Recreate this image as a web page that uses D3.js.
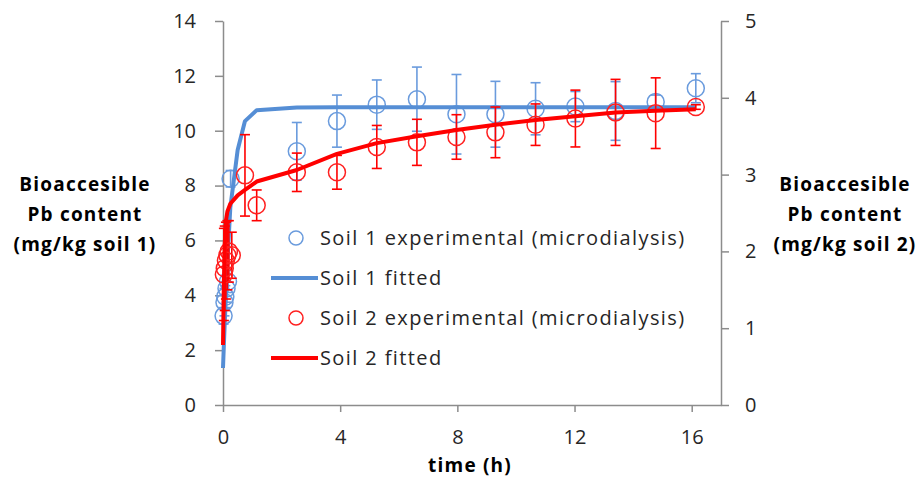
<!DOCTYPE html>
<html>
<head>
<meta charset="utf-8">
<script src="https://cdn.jsdelivr.net/npm/d3@7"></script>
<style>
    body { margin: 0; background: #fff; }
    svg { display: block; }
    .tick text { font-family: "Open Sans", Lato, sans-serif; font-size: 20px; fill: #262626; }
    .axis path, .axis line { stroke: #8c8c8c; stroke-width: 1.5px; }
    .title { font-family: "Open Sans", Lato, sans-serif; font-weight: bold; font-size: 19px; letter-spacing: 1.2px; fill: #000; }
    .legend text { font-family: "Open Sans", Lato, sans-serif; font-size: 20px; letter-spacing: 1.4px; fill: #262626; }
</style>
</head>
<body>
<svg width="922" height="479"></svg>
<script>
// soil 1 experimental (left axis)
const s1Time = [0.02, 0.05, 0.08, 0.12, 0.17, 0.26, 2.52, 3.89, 5.25, 6.62, 7.97, 9.30, 10.67, 12.03, 13.40, 14.77, 16.14]
const s1Val = [3.25, 3.75, 3.95, 4.25, 4.5, 8.25, 9.25, 10.35, 10.95, 11.15, 10.6, 10.6, 10.8, 10.88, 10.72, 11.05, 11.55]
const s1Err = [0.3, 0.5, 0.4, 0.5, 0.4, 0.3, 1.05, 0.95, 0.9, 1.17, 1.45, 1.2, 0.95, 0.55, 1.07, 0.25, 0.53]

// soil 2 experimental (right axis)
const s2Time = [0.03, 0.06, 0.1, 0.15, 0.2, 0.3, 0.75, 1.15, 2.52, 3.89, 5.25, 6.62, 7.97, 9.30, 10.67, 12.03, 13.40, 14.77, 16.14]
const s2Val = [1.70, 1.78, 1.88, 1.95, 2.0, 1.95, 2.99, 2.60, 3.03, 3.03, 3.36, 3.42, 3.49, 3.55, 3.65, 3.73, 3.81, 3.80, 3.88]
const s2Err = [0.6, 0.55, 0.5, 0.45, 0.4, 0.3, 0.53, 0.2, 0.25, 0.22, 0.28, 0.3, 0.29, 0.33, 0.27, 0.37, 0.43, 0.46, 0.03]

// fitted curves
const fitTime = [0, 0.03, 0.06, 0.1, 0.15, 0.25, 0.5, 0.75, 1.15, 2.52, 3.89, 5.25, 6.62, 7.97, 9.30, 10.67, 12.03, 13.40, 14.77, 16.14]
const fit1 = [1.35, 2.2, 3.0, 4.0, 5.2, 7.2, 9.3, 10.35, 10.75, 10.85, 10.86, 10.86, 10.86, 10.86, 10.86, 10.86, 10.86, 10.86, 10.86, 10.86]
const fit2 = [0.78, 1.6, 2.1, 2.4, 2.52, 2.62, 2.73, 2.80, 2.91, 3.06, 3.27, 3.41, 3.50, 3.58, 3.65, 3.71, 3.76, 3.81, 3.83, 3.85]

const xTicks = [0, 4, 8, 12, 16]
const leftTicks = [0, 2, 4, 6, 8, 10, 12, 14]
const rightTicks = [0, 1, 2, 3, 4, 5]
const legendItems = [
    { label: 'Soil 1 experimental (microdialysis)', color: '#6a9bdd', type: 'circle' },
    { label: 'Soil 1 fitted', color: '#558ed5', type: 'line' },
    { label: 'Soil 2 experimental (microdialysis)', color: '#ff2020', type: 'circle' },
    { label: 'Soil 2 fitted', color: '#ff0000', type: 'line' }
]

const blue = '#558ed5'
const blueLight = '#6a9bdd'
const red = '#ff0000'

const svg = d3.select('svg')

const x = d3.scaleLinear().domain([0, 17]).range([223, 721])
const yL = d3.scaleLinear().domain([0, 14]).range([405, 21])
const yR = d3.scaleLinear().domain([0, 5]).range([405, 21])

svg.append('g')
    .attr('class', 'axis')
    .attr('transform', 'translate(0,405)')
    .call(d3.axisBottom(x).tickValues(xTicks).tickSize(7).tickSizeOuter(0).tickPadding(18))

svg.append('g')
    .attr('class', 'axis')
    .attr('transform', 'translate(223,0)')
    .call(d3.axisLeft(yL).tickValues(leftTicks).tickSize(8).tickSizeOuter(0).tickPadding(19))

svg.append('g')
    .attr('class', 'axis')
    .attr('transform', 'translate(721,0)')
    .call(d3.axisRight(yR).tickValues(rightTicks).tickFormat(d3.format('d')).tickSize(8).tickSizeOuter(0).tickPadding(16))

function drawErrors(times, vals, errs, y, color) {
    const g = svg.append('g').attr('stroke', color).attr('stroke-width', 1.6).attr('fill', 'none')
    times.forEach((t, i) => {
        const cx = x(t)
        const top = y(vals[i] + errs[i])
        const bot = y(vals[i] - errs[i])
        g.append('line').attr('x1', cx).attr('x2', cx).attr('y1', top).attr('y2', bot)
        g.append('line').attr('x1', cx - 5).attr('x2', cx + 5).attr('y1', top).attr('y2', top)
        g.append('line').attr('x1', cx - 5).attr('x2', cx + 5).attr('y1', bot).attr('y2', bot)
    })
}

function drawCircles(times, vals, y, color) {
    svg.append('g').selectAll('circle')
        .data(times)
        .enter().append('circle')
        .attr('cx', d => x(d))
        .attr('cy', (d, i) => y(vals[i]))
        .attr('r', 8.5)
        .attr('fill', 'none')
        .attr('stroke', color)
        .attr('stroke-width', 1.5)
}

function drawFit(vals, y, color) {
    const line = d3.line()
        .x((d, i) => x(fitTime[i]))
        .y(d => y(d))
    svg.append('path')
        .datum(vals)
        .attr('d', line)
        .attr('fill', 'none')
        .attr('stroke', color)
        .attr('stroke-width', 4)
        .attr('stroke-linejoin', 'round')
}

drawErrors(s1Time, s1Val, s1Err, yL, blueLight)
drawCircles(s1Time, s1Val, yL, blueLight)
drawFit(fit1, yL, blue)
drawErrors(s2Time, s2Val, s2Err, yR, red)
drawCircles(s2Time, s2Val, yR, '#ff2020')
drawFit(fit2, yR, red)

// axis titles
const leftTitle = ['Bioaccesible', 'Pb content', '(mg/kg soil 1)']
const rightTitle = ['Bioaccesible', 'Pb content', '(mg/kg soil 2)']

svg.append('text').attr('class', 'title').attr('text-anchor', 'middle')
    .selectAll('tspan').data(leftTitle).enter().append('tspan')
    .attr('x', 85).attr('y', (d, i) => 191 + i * 30).text(d => d)

svg.append('text').attr('class', 'title').attr('text-anchor', 'middle')
    .selectAll('tspan').data(rightTitle).enter().append('tspan')
    .attr('x', 845).attr('y', (d, i) => 191 + i * 30).text(d => d)

svg.append('text').attr('class', 'title').attr('text-anchor', 'middle')
    .attr('x', 470).attr('y', 472).text('time (h)')

// legend
const legend = svg.append('g').attr('class', 'legend')
legendItems.forEach((item, i) => {
    const cy = 238 + i * 40
    if (item.type === 'circle') {
        legend.append('circle').attr('cx', 296).attr('cy', cy).attr('r', 7)
            .attr('fill', 'none').attr('stroke', item.color).attr('stroke-width', 1.5)
    } else {
        legend.append('line').attr('x1', 271).attr('x2', 318).attr('y1', cy).attr('y2', cy)
            .attr('stroke', item.color).attr('stroke-width', 4)
    }
    legend.append('text').attr('x', 320).attr('y', cy + 7).text(item.label)
})
</script>
</body>
</html>
